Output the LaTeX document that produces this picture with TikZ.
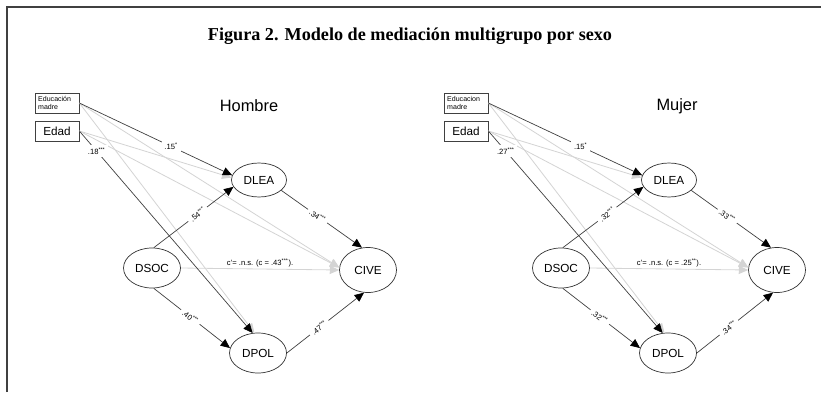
\documentclass[tikz,border=0pt]{standalone}
\usepackage{fontspec}
\setmainfont{Liberation Serif}
\setsansfont{Liberation Sans}
\usetikzlibrary{shapes.geometric,arrows.meta}

\begin{document}
\begin{tikzpicture}
[x=0.03cm,y=-0.03cm,%
  font=\sffamily,%
  obs/.style={shape=rectangle,draw=black!75,line width=0.6pt,minimum width=1.32cm,minimum height=0.6cm,inner sep=1pt},%
  lat/.style={shape=ellipse,draw=black!80,line width=0.6pt,minimum width=1.71cm,minimum height=1.2cm,inner sep=0pt,font=\sffamily\fontsize{10}{12}\selectfont},%
  dark/.style={draw=black!75,line width=0.6pt,-{Triangle[length=8pt,width=7pt,color=black]}},%
  light/.style={draw=black!17,line width=0.7pt,-{Triangle[length=8pt,width=7pt]}},%
  coef/.style={fill=white,inner sep=2.5pt,font=\sffamily\fontsize{6.5}{7}\selectfont},%
  panel/.style={font=\sffamily\fontsize{14}{16}\selectfont}]
\useasboundingbox (0,0) rectangle (821,392);
\draw[black!75,line width=1.2pt] (7,392) -- (7,7) -- (821,7);
\node[font=\rmfamily\bfseries\fontsize{15.5}{18}\selectfont] (title) at (410,36)
  {Figura 2. Modelo de mediación multigrupo por sexo};

% Hombre
\node[panel] (hombre) at (249,106) {Hombre};
\node[obs] (eduH) at (57,103) {};
\node[align=left,anchor=north west,inner sep=0pt,font=\sffamily\fontsize{6}{7}\selectfont]
  (eduHtxt) at (38,96) {Educación\\madre};
\node[obs,font=\sffamily\fontsize{10}{12}\selectfont] (edadH) at (57,131) {Edad};
\node[lat,minimum width=1.65cm,minimum height=1.02cm] (dleaH) at (259,180) {DLEA};
\node[lat] (dsocH) at (152,268) {DSOC};
\node[lat,minimum height=1.35cm] (civeH) at (368,270) {CIVE};
\node[lat] (dpolH) at (258,353) {DPOL};

\draw[light] (eduH.east) -- (dpolH.100);
\draw[light] (eduH.east) -- (civeH.175);
\draw[light] (edadH.east) -- (dleaH.175);
\draw[light] (edadH.east) -- (civeH.175);
\draw[light] (dsocH.east) -- node[above,inner sep=1pt,font=\sffamily\fontsize{6.5}{7}\selectfont]
  {c'= .n.s. (c = .43\textsuperscript{***}).} (civeH.west);
\draw[dark] (eduH.east) -- node[coef,pos=0.6] {.15\textsuperscript{*}} (dleaH.170);
\draw[dark] (edadH.east) -- node[coef,pos=0.1] {.18\textsuperscript{***}} (dpolH.105);
\draw[dark] (dsocH.85) -- node[coef,sloped,pos=0.55] {.54\textsuperscript{***}} (dleaH.195);
\draw[dark] (dleaH.-25) -- node[coef,sloped,pos=0.45] {.34\textsuperscript{***}} (civeH.105);
\draw[dark] (dsocH.-85) -- node[coef,sloped,pos=0.48] {.40\textsuperscript{***}} (dpolH.170);
\draw[dark] (dpolH.east) -- node[coef,sloped,pos=0.42] {.47\textsuperscript{***}} (civeH.-100);

% Mujer
\node[panel] (mujer) at (677,106) {Mujer};
\node[obs] (eduM) at (466,103) {};
\node[align=left,anchor=north west,inner sep=0pt,font=\sffamily\fontsize{6}{7}\selectfont]
  (eduMtxt) at (447,96) {Educacion\\madre};
\node[obs,font=\sffamily\fontsize{10}{12}\selectfont] (edadM) at (466,131) {Edad};
\node[lat,minimum width=1.65cm,minimum height=1.02cm] (dleaM) at (669,180) {DLEA};
\node[lat] (dsocM) at (561,268) {DSOC};
\node[lat,minimum height=1.35cm] (civeM) at (777,270) {CIVE};
\node[lat] (dpolM) at (668,353) {DPOL};

\draw[light] (eduM.east) -- (dpolM.100);
\draw[light] (eduM.east) -- (civeM.175);
\draw[light] (edadM.east) -- (dleaM.175);
\draw[light] (edadM.east) -- (civeM.175);
\draw[light] (dsocM.east) -- node[above,inner sep=1pt,font=\sffamily\fontsize{6.5}{7}\selectfont]
  {c'= .n.s. (c = .25\textsuperscript{**}).} (civeM.west);
\draw[dark] (eduM.east) -- node[coef,pos=0.6] {.15\textsuperscript{*}} (dleaM.170);
\draw[dark] (edadM.east) -- node[coef,pos=0.1] {.27\textsuperscript{***}} (dpolM.105);
\draw[dark] (dsocM.85) -- node[coef,sloped,pos=0.55] {.32\textsuperscript{***}} (dleaM.195);
\draw[dark] (dleaM.-25) -- node[coef,sloped,pos=0.45] {.33\textsuperscript{***}} (civeM.105);
\draw[dark] (dsocM.-85) -- node[coef,sloped,pos=0.48] {.32\textsuperscript{***}} (dpolM.170);
\draw[dark] (dpolM.east) -- node[coef,sloped,pos=0.42] {.34\textsuperscript{***}} (civeM.-100);
\end{tikzpicture}
\end{document}
